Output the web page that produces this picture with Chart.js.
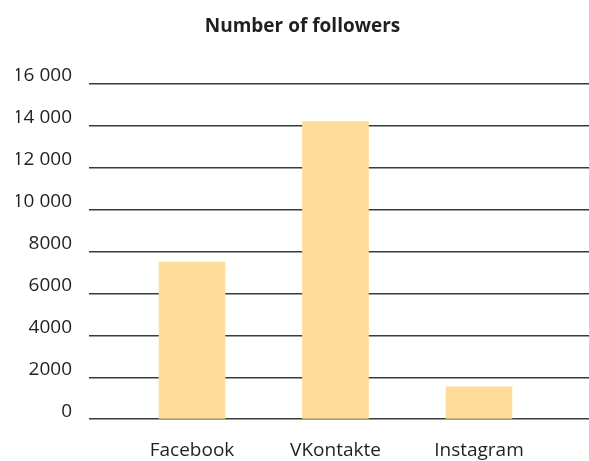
<!DOCTYPE html>
<html>
<head>
<meta charset="utf-8">
<script src="https://cdn.jsdelivr.net/npm/chart.js@4"></script>
<style>
  html, body { margin: 0; padding: 0; background: #fff; overflow: hidden; }
  #wrap { width: 589px; height: 485px; }
</style>
</head>
<body>
<div id="wrap"><canvas id="followersChart"></canvas></div>
<script>
const categories = ["Facebook", "VKontakte", "Instagram"];
const followers = [7500, 14200, 1550];
const yTicks = [0, 2000, 4000, 6000, 8000, 10000, 12000, 14000, 16000];

const textColor = "#231f20";
const fontFamily = "'Open Sans', 'Noto Sans', sans-serif";

function formatNumber(v) {
  if (v >= 10000) {
    return String(v).replace(/\B(?=(\d{3})+(?!\d))/g, " ");
  }
  return String(v);
}

function initChart() {
  const ctx = document.getElementById("followersChart").getContext("2d");
  new Chart(ctx, {
    type: "bar",
    data: {
      datasets: [
        {
          label: "Number of followers",
          data: followers.map((v, i) => ({ x: i, y: v })),
          backgroundColor: "#fddd98",
          borderWidth: 0,
          barThickness: 66,
        },
      ],
    },
    options: {
      responsive: true,
      maintainAspectRatio: false,
      animation: false,
      layout: { padding: { left: 16, right: 0, top: 0, bottom: 3 } },
      plugins: {
        legend: { display: false },
        tooltip: { enabled: false },
        title: {
          display: true,
          text: "Number of followers",
          color: textColor,
          font: { family: fontFamily, size: 19, weight: "bold" },
          padding: { top: 15, bottom: 46 },
        },
      },
      scales: {
        x: {
          type: "linear",
          offset: false,
          bounds: "data",
          min: -0.718,
          max: 2.767,
          grid: { display: false, drawTicks: false },
          border: { display: false },
          afterBuildTicks: (scale) => {
            scale.ticks = categories.map((c, i) => ({ value: i }));
          },
          ticks: {
            padding: 20,
            color: textColor,
            font: { family: fontFamily, size: 19 },
            callback: (v) => categories[v],
          },
        },
        y: {
          min: yTicks[0],
          max: yTicks[yTicks.length - 1],
          afterBuildTicks: (scale) => {
            scale.ticks = yTicks.map((v) => ({ value: v }));
          },
          afterFit: (scale) => {
            scale.width = 73;
          },
          grid: { color: "#3a3a3a", lineWidth: 1.5, drawTicks: false },
          border: { display: false },
          ticks: {
            padding: 17,
            labelOffset: -8,
            color: textColor,
            font: { family: fontFamily, size: 19 },
            callback: (v) => formatNumber(v),
          },
        },
      },
    },
  });
}

window.onload = initChart;
</script>
</body>
</html>
